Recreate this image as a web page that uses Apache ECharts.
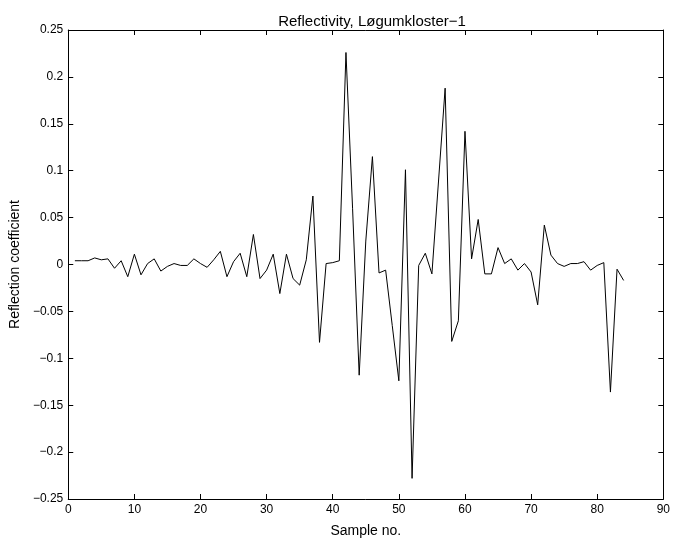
<!DOCTYPE html>
<html>
<head>
<meta charset="utf-8">
<script src="https://cdn.jsdelivr.net/npm/echarts@6/dist/echarts.min.js"></script>
<style>html,body{margin:0;padding:0;background:#fff;}#c{width:673px;height:543px;}</style>
</head>
<body>
<div id="c"></div>
<script>
const sampleNo = [];
const reflectivity = [
  0.004, 0.004, 0.004, 0.007, 0.005, 0.006, -0.004, 0.004, -0.013, 0.011,
  -0.011, 0.001, 0.006, -0.007, -0.002, 0.001, -0.001, -0.001, 0.006, 0.001,
  -0.003, 0.005, 0.014, -0.013, 0.003, 0.012, -0.013, 0.032, -0.015, -0.006,
  0.011, -0.031, 0.011, -0.015, -0.022, 0.005, 0.073, -0.083, 0.001, 0.002,
  0.004, 0.226, 0.06, -0.118, 0.025, 0.115, -0.009, -0.006, -0.065, -0.124,
  0.101, -0.228, -0.001, 0.012, -0.010, 0.089, 0.188, -0.082, -0.060, 0.142,
  0.006, 0.048, -0.010, -0.010, 0.018, 0.001, 0.006, -0.006, 0.001, -0.008,
  -0.043, 0.042, 0.010, 0.001, -0.002, 0.001, 0.001, 0.003, -0.006, -0.001,
  0.002, -0.136, -0.005, -0.017
];
for (let i = 0; i < reflectivity.length; i++) sampleNo.push(i + 1);
const xTicks = [0, 10, 20, 30, 40, 50, 60, 70, 80, 90];
const yTicks = [-0.25, -0.2, -0.15, -0.1, -0.05, 0, 0.05, 0.1, 0.15, 0.2, 0.25];
const titleText = 'Reflectivity, Løgumkloster−1';
const xName = 'Sample no.';
const yName = 'Reflection coefficient';

const font = 'Liberation Sans, Arial, Helvetica, sans-serif';
const chart = echarts.init(document.getElementById('c'));
const fmtY = v => {
  const r = Math.round(v * 100) / 100;
  return String(r).replace('-', '−');
};
const axisLine = {show: true, onZero: false, lineStyle: {color: '#000', width: 1}};
chart.setOption({
  backgroundColor: '#fff',
  animation: false,
  title: {
    text: titleText, left: 367, top: 9, textAlign: 'center',
    textStyle: {fontFamily: font, fontWeight: 'normal', fontSize: 15, color: '#000'}
  },
  grid: {left: 68, right: 8, top: 30, bottom: 43, containLabel: false},
  xAxis: [{
    type: 'value', min: xTicks[0], max: xTicks[xTicks.length - 1], interval: 10,
    name: xName, nameLocation: 'middle', nameGap: 25,
    nameTextStyle: {fontFamily: font, fontSize: 14, color: '#000'},
    axisLine: axisLine,
    axisTick: {show: true, inside: true, length: 5, lineStyle: {color: '#000'}},
    axisLabel: {fontFamily: font, fontSize: 12, color: '#000', margin: 5},
    splitLine: {show: false}
  }, {
    type: 'value', position: 'top', min: xTicks[0], max: xTicks[xTicks.length - 1], interval: 10,
    axisLine: axisLine,
    axisTick: {show: true, inside: true, length: 5, lineStyle: {color: '#000'}},
    axisLabel: {show: false}, splitLine: {show: false}
  }],
  yAxis: [{
    type: 'value', min: yTicks[0], max: yTicks[yTicks.length - 1], interval: 0.05,
    name: yName, nameLocation: 'middle', nameGap: 45, nameRotate: 90,
    nameTextStyle: {fontFamily: font, fontSize: 14, color: '#000'},
    axisLine: axisLine,
    axisTick: {show: true, inside: true, length: 5, lineStyle: {color: '#000'}},
    axisLabel: {fontFamily: font, fontSize: 12, color: '#000', margin: 5, formatter: fmtY},
    splitLine: {show: false}
  }, {
    type: 'value', position: 'right', min: yTicks[0], max: yTicks[yTicks.length - 1], interval: 0.05,
    axisLine: axisLine,
    axisTick: {show: true, inside: true, length: 5, lineStyle: {color: '#000'}},
    axisLabel: {show: false}, splitLine: {show: false}
  }],
  series: [{
    type: 'line',
    data: sampleNo.map((x, i) => [x, reflectivity[i]]),
    xAxisIndex: 0, yAxisIndex: 0,
    showSymbol: false, symbol: 'none',
    lineStyle: {color: '#000', width: 1},
    silent: true
  }]
});
</script>
</body>
</html>
